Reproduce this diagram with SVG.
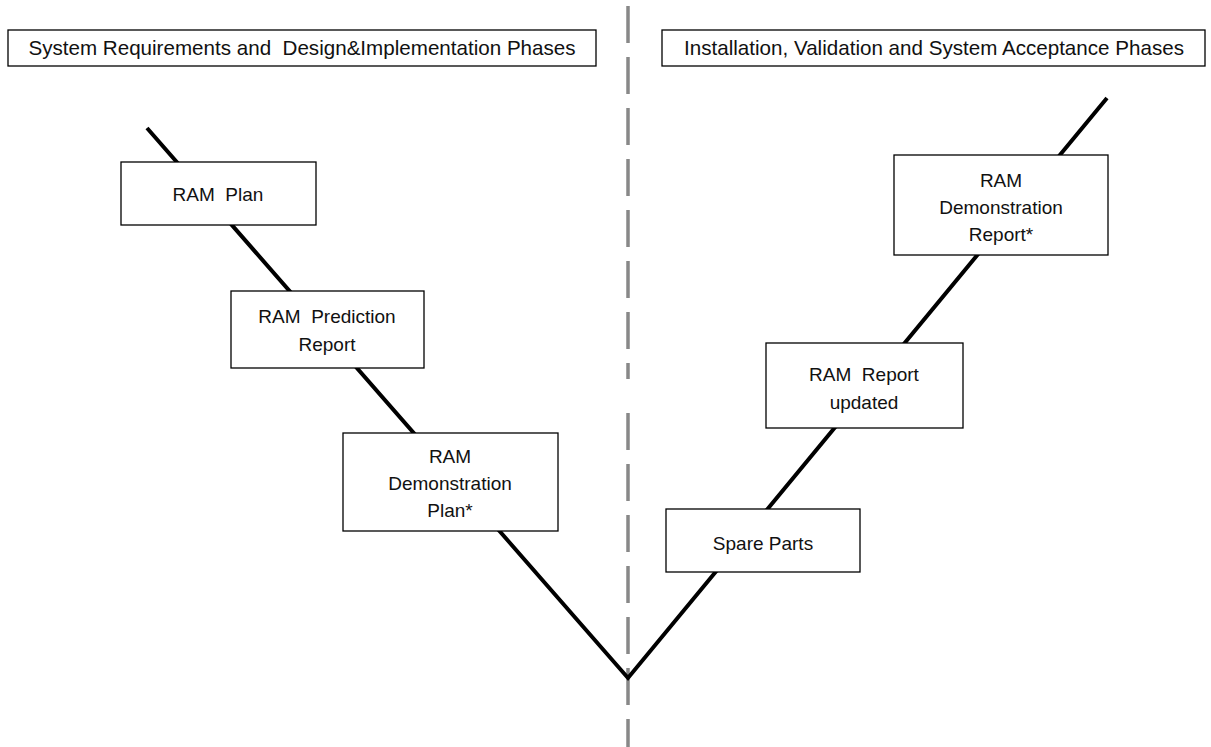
<svg xmlns="http://www.w3.org/2000/svg" width="1211" height="747" viewBox="0 0 1211 747">
<style>
.box{fill:#fff;stroke:#000;stroke-width:1.3}
.t{font-family:"Liberation Sans",Arial,sans-serif;font-size:19px;fill:#111;text-anchor:middle;white-space:pre}
.h{font-size:20.6px}
.v{fill:none;stroke:#000;stroke-width:4}
.d{stroke:#888;stroke-width:3.5;stroke-dasharray:37 14}
</style>
<rect width="1211" height="747" fill="#fff"/>
<g id="connectors">
<line class="d" x1="628" y1="6" x2="628" y2="379"/>
<line class="d" x1="628" y1="413" x2="628" y2="747"/>
<polyline class="v" points="147,128 628,678 1107,98"/>
</g>
<g id="header-left">
<rect class="box" x="8" y="30" width="588" height="36"/>
<text class="t h" x="302" y="55">System Requirements and  Design&amp;Implementation Phases</text>
</g>
<g id="header-right">
<rect class="box" x="662" y="30" width="543" height="36"/>
<text class="t h" x="934" y="55">Installation, Validation and System Acceptance Phases</text>
</g>
<g id="ram-plan">
<rect class="box" x="121" y="162" width="195" height="63"/>
<text class="t" x="218" y="201">RAM  Plan</text>
</g>
<g id="ram-prediction">
<rect class="box" x="231" y="291" width="193" height="77"/>
<text class="t" x="327" y="323">RAM  Prediction</text>
<text class="t" x="327" y="351">Report</text>
</g>
<g id="ram-demo-plan">
<rect class="box" x="343" y="433" width="215" height="98"/>
<text class="t" x="450" y="463">RAM</text>
<text class="t" x="450" y="490">Demonstration</text>
<text class="t" x="450" y="517">Plan*</text>
</g>
<g id="spare-parts">
<rect class="box" x="666" y="509" width="194" height="63"/>
<text class="t" x="763" y="550">Spare Parts</text>
</g>
<g id="ram-report-updated">
<rect class="box" x="766" y="343" width="197" height="85"/>
<text class="t" x="864" y="381">RAM  Report</text>
<text class="t" x="864" y="409">updated</text>
</g>
<g id="ram-demo-report">
<rect class="box" x="894" y="155" width="214" height="100"/>
<text class="t" x="1001" y="187">RAM</text>
<text class="t" x="1001" y="214">Demonstration</text>
<text class="t" x="1001" y="241">Report*</text>
</g>
</svg>
